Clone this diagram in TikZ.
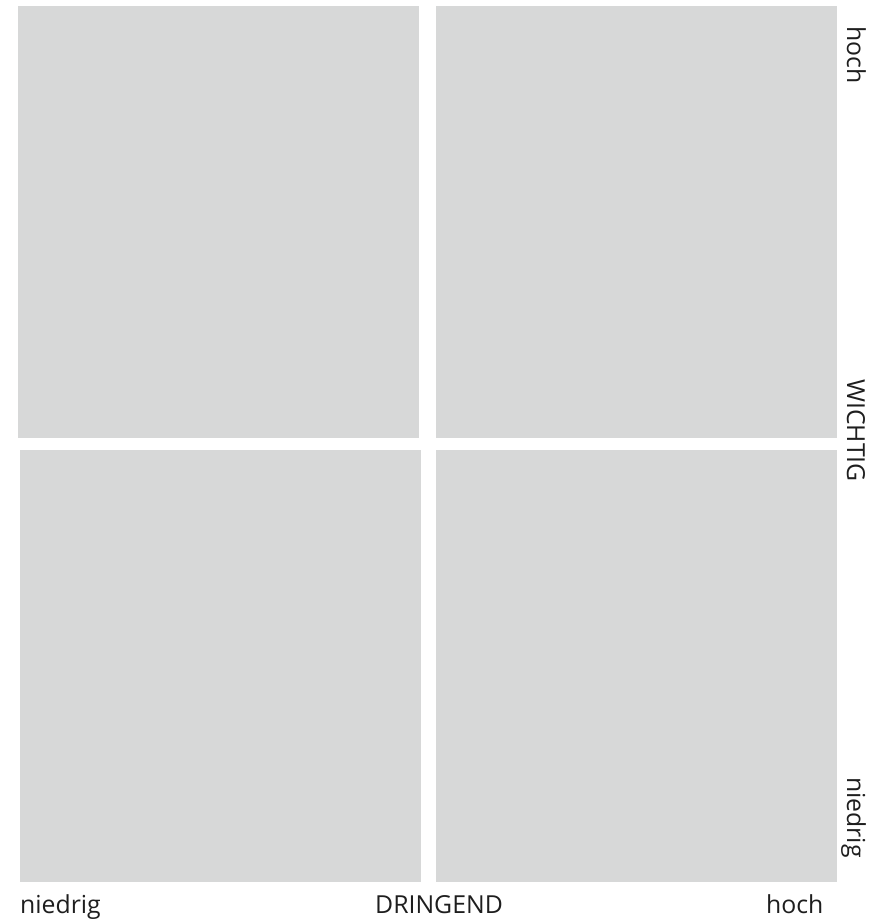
\documentclass[tikz,border=0pt]{standalone}
\usepackage{fontspec}
\setmainfont{Open Sans}
\definecolor{boxgray}{HTML}{D7D8D8}
\definecolor{txt}{HTML}{1E1E1E}
\begin{document}
\begin{tikzpicture}[x=1pt,y=-1pt,
  quad/.style={fill=boxgray,draw=none},
  lbl/.style={font=\fontsize{24.8}{28}\selectfont,text=txt,inner sep=0pt,anchor=base west},
  vlbl/.style={lbl,rotate=-90}]
\useasboundingbox (0,0) rectangle (890,921);
\fill[quad] (18,6) rectangle (419,438);
\fill[quad] (436,6) rectangle (837,438);
\fill[quad] (20,450) rectangle (421,882);
\fill[quad] (436,450) rectangle (837,882);
\node[lbl] (xlow) at (20,913) {niedrig};
\node[lbl] (xmid) at (375,913) {DRINGEND};
\node[lbl] (xhigh) at (766,913) {hoch};
\node[vlbl] (yhigh) at (847,26) {hoch};
\node[vlbl] (ymid) at (847,379) {WICHTIG};
\node[vlbl] (ylow) at (847,777) {niedrig};
\end{tikzpicture}
\end{document}
